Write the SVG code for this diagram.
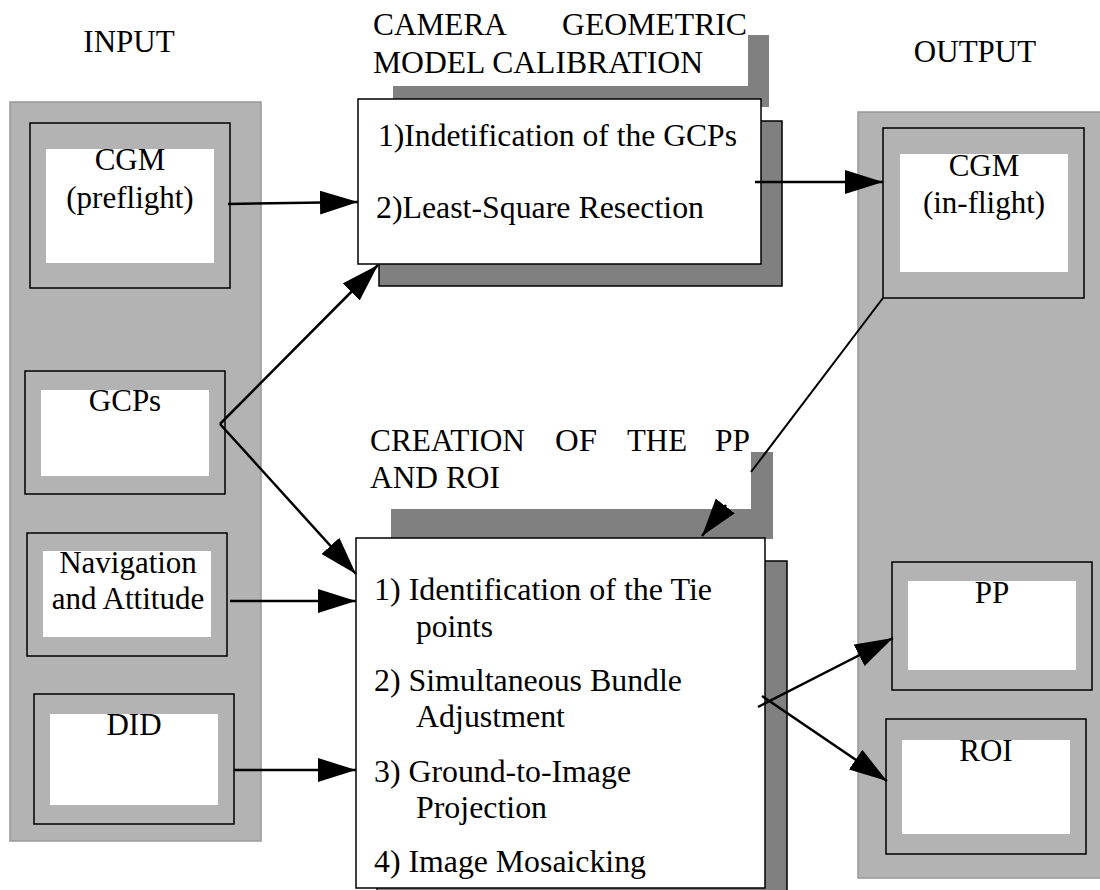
<svg xmlns="http://www.w3.org/2000/svg" width="1100" height="890" viewBox="0 0 1100 890">
<defs>
<marker id="ah" markerUnits="userSpaceOnUse" markerWidth="38" markerHeight="24" refX="38" refY="12" orient="auto">
<path d="M0,0 L38,12 L0,24 z" fill="#000"/>
</marker>
</defs>
<style>
text{font-family:"Liberation Serif","Times New Roman",serif;font-size:31px;fill:#000}
.c{text-anchor:middle}
.panel{fill:#b3b3b3;stroke:#999;stroke-width:1.5}
.outer{fill:#b3b3b3;stroke:#000;stroke-width:1.5}
.inner{fill:#fff;stroke:none}
.shadow{fill:#808080;stroke:#000;stroke-width:1.5}
.tshadow{fill:#808080;stroke:none}
.box{fill:#fff;stroke:#000;stroke-width:1.5}
.tbox{fill:#fff;stroke:none}
.conn{fill:none;stroke:#000;stroke-width:2.5}
</style>
<rect width="1100" height="890" fill="#fff"/>

<g id="input-panel">
<rect class="panel" x="10" y="102" width="251" height="739"/>
<text class="c" x="129" y="52">INPUT</text>
</g>
<g id="output-panel">
<rect class="panel" x="858" y="112" width="250" height="766"/>
<text class="c" x="975" y="62">OUTPUT</text>
</g>

<g id="cgm-preflight">
<rect class="outer" x="30" y="123" width="200" height="165"/>
<rect class="inner" x="46" y="149" width="168" height="114"/>
<text class="c" x="130" y="170">CGM</text>
<text class="c" x="130" y="208">(preflight)</text>
</g>
<g id="gcps">
<rect class="outer" x="25" y="371" width="200" height="123"/>
<rect class="inner" x="41" y="390" width="168" height="86"/>
<text class="c" x="125" y="411">GCPs</text>
</g>
<g id="navigation">
<rect class="outer" x="27" y="533" width="200" height="123"/>
<rect class="inner" x="43" y="551" width="168" height="86"/>
<text class="c" x="128" y="573">Navigation</text>
<text class="c" x="128" y="609">and Attitude</text>
</g>
<g id="did">
<rect class="outer" x="34" y="694" width="200" height="130"/>
<rect class="inner" x="50" y="714" width="168" height="91"/>
<text class="c" x="134" y="735">DID</text>
</g>

<g id="cgm-inflight">
<rect class="outer" x="883" y="128" width="201" height="170"/>
<rect class="inner" x="900" y="154" width="168" height="118"/>
<text class="c" x="984" y="176">CGM</text>
<text class="c" x="984" y="213">(in-flight)</text>
</g>
<g id="pp">
<rect class="outer" x="892" y="562" width="200" height="128"/>
<rect class="inner" x="908" y="581" width="168" height="89"/>
<text class="c" x="992" y="603">PP</text>
</g>
<g id="roi">
<rect class="outer" x="886" y="719" width="200" height="135"/>
<rect class="inner" x="902" y="740" width="168" height="94"/>
<text class="c" x="986" y="761">ROI</text>
</g>

<g id="calibration">
<rect class="tshadow" x="393" y="35" width="376" height="72"/>
<rect class="tbox" x="365" y="0" width="383" height="86"/>
<text x="373" y="35"><tspan x="373" textLength="134" lengthAdjust="spacingAndGlyphs">CAMERA</tspan><tspan x="562" textLength="185" lengthAdjust="spacingAndGlyphs">GEOMETRIC</tspan></text>
<text x="373" y="73" textLength="330" lengthAdjust="spacingAndGlyphs">MODEL CALIBRATION</text>
<rect class="shadow" x="379" y="121" width="403" height="165"/>
<rect class="box" x="358" y="99" width="403" height="165"/>
<text x="378" y="146" textLength="359" lengthAdjust="spacingAndGlyphs">1)Indetification of the GCPs</text>
<text x="376" y="218" textLength="328" lengthAdjust="spacingAndGlyphs">2)Least-Square Resection</text>
</g>

<g id="creation">
<rect class="tshadow" x="391" y="452" width="382" height="87"/>
<rect class="tbox" x="362" y="420" width="389" height="89"/>
<text x="370" y="451"><tspan x="370" textLength="155" lengthAdjust="spacingAndGlyphs">CREATION</tspan><tspan x="555" textLength="42" lengthAdjust="spacingAndGlyphs">OF</tspan><tspan x="627" textLength="60" lengthAdjust="spacingAndGlyphs">THE</tspan><tspan x="715" textLength="35" lengthAdjust="spacingAndGlyphs">PP</tspan></text>
<text x="370" y="488" textLength="130" lengthAdjust="spacingAndGlyphs">AND ROI</text>
<rect class="shadow" x="377" y="561" width="410" height="340"/>
<rect class="box" x="356" y="538" width="409" height="350"/>
<text x="374" y="600" textLength="338" lengthAdjust="spacingAndGlyphs">1) Identification of the Tie</text>
<text x="416" y="637" textLength="77" lengthAdjust="spacingAndGlyphs">points</text>
<text x="374" y="691" textLength="308" lengthAdjust="spacingAndGlyphs">2) Simultaneous Bundle</text>
<text x="416" y="727" textLength="149" lengthAdjust="spacingAndGlyphs">Adjustment</text>
<text x="374" y="782" textLength="257" lengthAdjust="spacingAndGlyphs">3) Ground-to-Image</text>
<text x="416" y="818" textLength="131" lengthAdjust="spacingAndGlyphs">Projection</text>
<text x="374" y="872" textLength="272" lengthAdjust="spacingAndGlyphs">4) Image Mosaicking</text>
</g>

<g id="connectors">
<path class="conn" d="M228,204 L358,202" marker-end="url(#ah)"/>
<path class="conn" d="M220,424 L378,265" marker-end="url(#ah)"/>
<path class="conn" d="M220,424 L356,574" marker-end="url(#ah)"/>
<path class="conn" d="M230,601 L356,601" marker-end="url(#ah)"/>
<path class="conn" d="M234,770 L356,770" marker-end="url(#ah)"/>
<path class="conn" d="M755,182 L883,182" marker-end="url(#ah)"/>
<path class="conn" d="M883,298 L751,472" style="stroke-width:2"/>
<path class="conn" d="M726,505 L702,536" marker-end="url(#ah)"/>
<path class="conn" d="M758,707 L893,638" marker-end="url(#ah)"/>
<path class="conn" d="M762,696 L887,781" marker-end="url(#ah)"/>
</g>
</svg>
